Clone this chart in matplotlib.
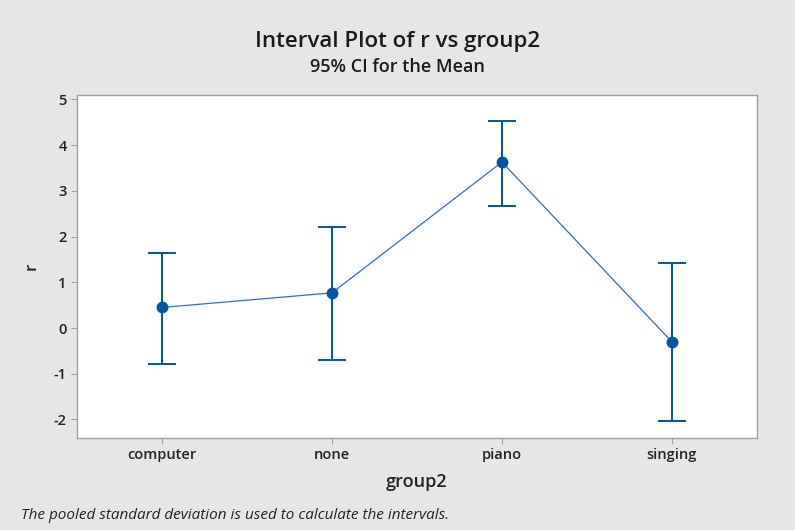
import numpy as np
import matplotlib.pyplot as plt

# interval plot values
groups = ["computer", "none", "piano", "singing"]
means = [0.45, 0.77, 3.63, -0.30]
upper = [1.65, 2.22, 4.53, 1.42]
lower = [-0.79, -0.70, 2.66, -2.03]

plt.rcParams['font.family'] = ['Open Sans', 'DejaVu Sans']
plt.rcParams['axes.unicode_minus'] = False

bg = "#e6e6e6"
blue = "#0054a6"

fig = plt.figure(figsize=(7.95, 5.3), dpi=100, facecolor=bg)
ax = fig.add_axes([0.097, 0.174, 0.855, 0.647])

x = np.arange(len(groups))
m = np.array(means)
yerr = [m - np.array(lower), np.array(upper) - m]

# connect line first, then intervals
ax.plot(x, m, color="#2f6fb8", lw=0.9, zorder=2)
ax.errorbar(x, m, yerr=yerr, fmt="o", color=blue, ms=7.5, ecolor=blue,
            elinewidth=1.4, capsize=10, capthick=1.4, zorder=3)

ax.set_xlim(-0.5, 3.5)
ax.set_ylim(-2.4, 5.1)
ax.set_yticks(range(-2, 6))
ax.set_xticks(x)
ax.set_xticklabels(groups)

for s in ax.spines.values():
    s.set_color("#a0a0a0")
    s.set_linewidth(1.0)
ax.tick_params(axis="both", direction="out", length=4, color="#a0a0a0",
               labelsize=10.5, labelcolor="#222222")
for lab in ax.get_xticklabels() + ax.get_yticklabels():
    lab.set_fontweight("semibold")

ax.set_xlabel("group2", fontsize=13, fontweight="semibold", color="#222222", labelpad=8)
ax.set_ylabel("r", fontsize=12.5, fontweight="semibold", color="#222222", labelpad=10)

fig.text(0.5, 0.922, "Interval Plot of r vs group2", ha="center", va="center",
         fontsize=16, fontweight="semibold", color="#1a1a1a")
fig.text(0.5, 0.873, "95% CI for the Mean", ha="center", va="center",
         fontsize=13, fontweight="semibold", color="#1a1a1a")
fig.text(0.027, 0.028, "The pooled standard deviation is used to calculate the intervals.",
         ha="left", va="center", fontsize=11, style="italic", color="#222222")

fig.savefig("out.png", dpi=100, facecolor=bg)
